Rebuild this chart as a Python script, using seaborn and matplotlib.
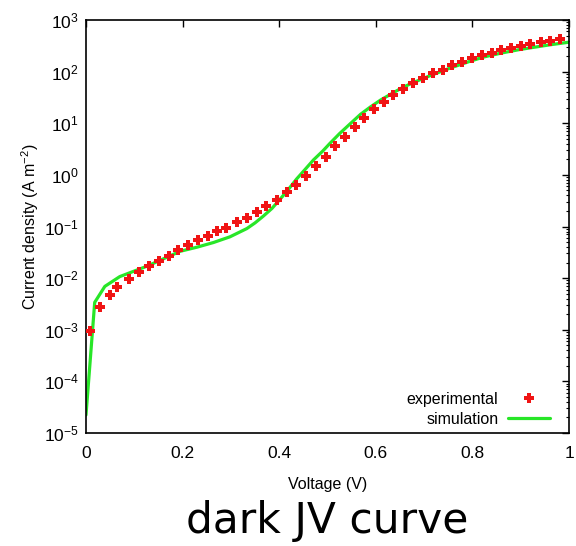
import numpy as np
import pandas as pd
import matplotlib
matplotlib.use("Agg")
import matplotlib.pyplot as plt
import matplotlib.ticker as mticker
from matplotlib.lines import Line2D
import seaborn as sns

# ---- data ----
exp_voltage = [0.008, 0.029, 0.050, 0.065, 0.090, 0.110, 0.130, 0.151, 0.172, 0.191,
               0.212, 0.231, 0.252, 0.272, 0.290, 0.312, 0.333, 0.354, 0.373, 0.395,
               0.416, 0.435, 0.455, 0.476, 0.496, 0.516, 0.537, 0.556, 0.576, 0.596,
               0.616, 0.636, 0.657, 0.678, 0.698, 0.718, 0.739, 0.758, 0.778, 0.799,
               0.819, 0.840, 0.860, 0.880, 0.900, 0.920, 0.941, 0.961, 0.981]
exp_log_j = [-3.02, -2.55, -2.32, -2.18, -2.01, -1.89, -1.76, -1.66, -1.57, -1.45,
             -1.35, -1.26, -1.18, -1.09, -1.02, -0.92, -0.83, -0.72, -0.61, -0.48,
             -0.34, -0.19, -0.02, 0.17, 0.35, 0.56, 0.74, 0.93, 1.11, 1.27,
             1.42, 1.55, 1.67, 1.77, 1.87, 1.97, 2.04, 2.12, 2.19, 2.26,
             2.32, 2.37, 2.42, 2.46, 2.50, 2.54, 2.57, 2.59, 2.63]
exp_current = [10 ** v for v in exp_log_j]

sim_voltage = [0.0, 0.018, 0.039, 0.070, 0.126, 0.195, 0.230, 0.264, 0.298, 0.333,
               0.350, 0.367, 0.385, 0.402, 0.420, 0.436, 0.455, 0.471, 0.490, 0.505,
               0.525, 0.547, 0.568, 0.588, 0.610, 0.636, 0.655, 0.678, 0.712, 0.754,
               0.795, 0.822, 0.860, 0.899, 0.961, 1.0]
sim_log_j = [-4.65, -2.47, -2.16, -1.97, -1.77, -1.48, -1.40, -1.31, -1.20, -1.04,
             -0.93, -0.80, -0.65, -0.47, -0.27, -0.08, 0.12, 0.29, 0.46, 0.61,
             0.80, 0.99, 1.17, 1.31, 1.45, 1.59, 1.69, 1.79, 1.92, 2.07,
             2.20, 2.28, 2.36, 2.43, 2.52, 2.57]
sim_current = [10 ** v for v in sim_log_j]

x_ticks = [0, 0.2, 0.4, 0.6, 0.8, 1]
x_tick_labels = ["0", "0.2", "0.4", "0.6", "0.8", "1"]
y_ticks = [1e-5, 1e-4, 1e-3, 1e-2, 1e-1, 1e0, 1e1, 1e2, 1e3]
y_tick_labels = [r"$10^{%d}$" % e for e in range(-5, 4)]

exp_df = pd.DataFrame({"voltage": exp_voltage, "current": exp_current})
sim_df = pd.DataFrame({"voltage": sim_voltage, "current": sim_current})

# ---- style ----
sns.set_theme(style="white")
plt.rcParams["font.family"] = ["Liberation Sans", "DejaVu Sans"]
plt.rcParams["mathtext.fontset"] = "custom"
plt.rcParams["mathtext.rm"] = "Liberation Sans"
plt.rcParams["mathtext.it"] = "Liberation Sans:italic"
plt.rcParams["mathtext.default"] = "rm"
plt.rcParams["text.color"] = "black"
plt.rcParams["axes.labelcolor"] = "black"

RED = "#f01414"
GREEN = "#28e628"

fig = plt.figure(figsize=(5.76, 5.46), dpi=100)
ax = fig.add_axes([86 / 576, 1 - 433 / 546, (569 - 86) / 576, (433 - 20) / 546])

sns.lineplot(data=sim_df, x="voltage", y="current", ax=ax, color=GREEN,
             linewidth=2.3, zorder=2, legend=False)
sns.scatterplot(data=exp_df, x="voltage", y="current", ax=ax, color=RED,
                marker="P", s=44, linewidth=0, zorder=3, legend=False)

ax.set_yscale("log")
ax.set_xlim(0, 1)
ax.set_ylim(1e-5, 1e3)
ax.set_xticks(x_ticks)
ax.set_xticklabels(x_tick_labels)
ax.set_yticks(y_ticks)
ax.set_yticklabels(y_tick_labels)
ax.yaxis.set_minor_locator(mticker.LogLocator(base=10, subs=np.arange(2, 10), numticks=20))
ax.yaxis.set_minor_formatter(mticker.NullFormatter())

ax.tick_params(axis="both", which="both", direction="in", top=True, right=True,
               colors="black", labelsize=12.5)
ax.tick_params(axis="both", which="major", length=5, width=1)
ax.tick_params(axis="y", which="minor", length=2.5, width=0.8)
ax.tick_params(axis="x", which="major", pad=9)
ax.tick_params(axis="y", which="major", pad=5)

for sp in ax.spines.values():
    sp.set_color("black")
    sp.set_linewidth(1.2)

ax.set_xlabel("Voltage (V)", fontsize=11.5, labelpad=12)
ax.set_ylabel(r"Current density (A m$^{-2}$)", fontsize=11.5, labelpad=2)

handles = [
    Line2D([], [], color=RED, marker="P", linestyle="none", markersize=6.6, markeredgewidth=0),
    Line2D([], [], color=GREEN, linewidth=2.3),
]
ax.legend(handles, ["experimental", "simulation"], loc="lower right",
          bbox_to_anchor=(0.973, 0.0), frameon=False,
          markerfirst=False, fontsize=11.5, handlelength=2.6, handletextpad=0.6,
          labelspacing=0.3, borderaxespad=0.0)

fig.text((86 + 569) / 2 / 576, 1 - 521 / 546, "dark JV curve", ha="center", va="center",
         fontsize=30.5, family="DejaVu Sans", color="black")

fig.savefig("out.png", dpi=100, facecolor="white")
